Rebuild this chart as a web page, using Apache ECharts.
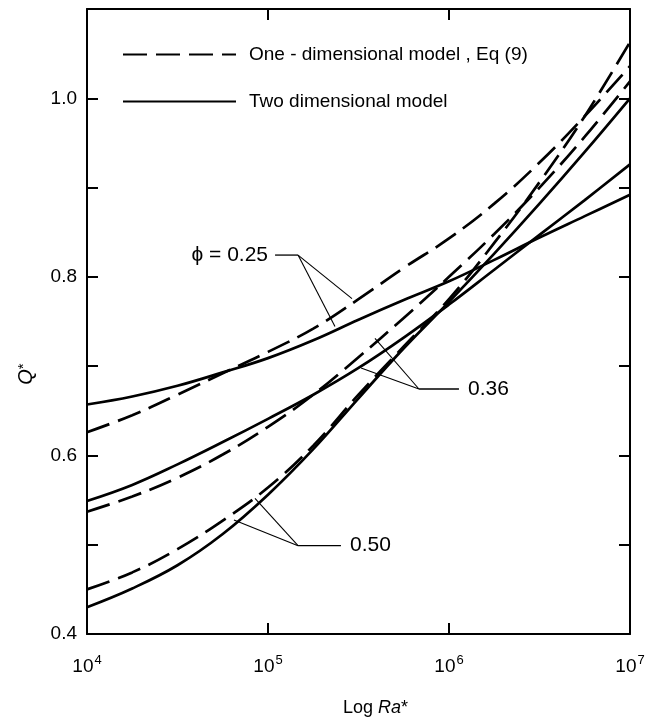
<!DOCTYPE html>
<html>
<head>
<meta charset="utf-8">
<script src="https://cdn.jsdelivr.net/npm/echarts@6/dist/echarts.min.js"></script>
<style>
  html, body { margin: 0; padding: 0; background: #fff; }
  #chart { width: 652px; height: 722px; }
</style>
</head>
<body>
<div id="chart"></div>
<script>
// x = log10(Ra*)
var logRa = [4, 4.25, 4.5, 4.75, 5, 5.25, 5.5, 5.75, 6, 6.25, 6.5, 6.75, 7];

// two dimensional model (solid)
var twoD_025 = [0.657, 0.666, 0.678, 0.693, 0.709, 0.729, 0.752, 0.774, 0.795, 0.819, 0.844, 0.868, 0.892];
var twoD_036 = [0.549, 0.567, 0.590, 0.615, 0.641, 0.668, 0.698, 0.732, 0.769, 0.808, 0.847, 0.886, 0.926];
var twoD_050 = [0.430, 0.451, 0.477, 0.512, 0.556, 0.607, 0.664, 0.720, 0.772, 0.826, 0.882, 0.940, 1.000];

// one-dimensional model, Eq (9) (dashed)
var oneD_025 = [0.626, 0.645, 0.668, 0.692, 0.716, 0.742, 0.775, 0.810, 0.843, 0.882, 0.928, 0.980, 1.036];
var oneD_036 = [0.537, 0.554, 0.575, 0.601, 0.632, 0.668, 0.710, 0.754, 0.800, 0.848, 0.900, 0.957, 1.019];
var oneD_050 = [0.450, 0.469, 0.495, 0.527, 0.564, 0.611, 0.668, 0.722, 0.775, 0.838, 0.906, 0.980, 1.063];

var xTickExp = [4, 5, 6, 7];
var yTickLabels = [0.4, 0.6, 0.8, 1.0];

var NAME_1D = 'One - dimensional model , Eq (9)';
var NAME_2D = 'Two dimensional model';

// leader lines for the phi labels, in data coordinates
var leaders = [
  { text: 'ϕ = 0.25', align: 'right', textAt: [5.00, 0.8244], joint: [5.166, 0.8244], end: [5.039, 0.8244],
    targets: [[5.464, 0.7756], [5.370, 0.7444]] },
  { text: '0.36', align: 'left', textAt: [6.105, 0.6744], joint: [5.834, 0.6744], end: [6.055, 0.6744],
    targets: [[5.514, 0.698], [5.591, 0.731]] },
  { text: '0.50', align: 'left', textAt: [5.453, 0.4989], joint: [5.166, 0.4989], end: [5.403, 0.4989],
    targets: [[4.812, 0.5278], [4.928, 0.552]] }
];

function pairs(ys) {
  return logRa.map(function (x, i) { return [x, ys[i]]; });
}

var FONT = 'Liberation Sans';
var dash = [24, 9];

function curve(name, ys, dashed) {
  return {
    name: name,
    type: 'line',
    data: pairs(ys),
    smooth: 0.4,
    symbol: 'none',
    silent: true,
    itemStyle: { color: '#000' },
    lineStyle: { color: '#000', width: 2.7, type: dashed ? dash : 'solid' }
  };
}

var chart = echarts.init(document.getElementById('chart'));

var axisLine = { show: true, lineStyle: { color: '#000', width: 2 } };
var tick = { show: true, inside: true, length: 11, lineStyle: { color: '#000', width: 2 } };

var option = {
  animation: false,
  backgroundColor: '#fff',
  grid: { left: 87, right: 22, top: 9, bottom: 82, containLabel: false },
  legend: {
    orient: 'vertical',
    left: 117,
    top: 40,
    itemWidth: 113,
    itemHeight: 20,
    itemGap: 28,
    data: [NAME_1D, NAME_2D],
    itemStyle: { opacity: 0 },
    textStyle: { fontFamily: FONT, fontSize: 19, color: '#000', padding: [0, 0, 0, 8] },
    selectedMode: false
  },
  xAxis: [
    {
      type: 'value', position: 'bottom', min: 4, max: 7, interval: 1,
      axisLine: axisLine, axisTick: tick, splitLine: { show: false },
      name: '{n|Log }{i|Ra}{n|*}',
      nameLocation: 'middle', nameGap: 65,
      nameTextStyle: {
        padding: [0, 0, 0, 34],
        rich: {
          n: { fontFamily: FONT, fontSize: 18, color: '#000' },
          i: { fontFamily: FONT, fontSize: 18, fontStyle: 'italic', color: '#000' }
        }
      },
      axisLabel: {
        margin: 20,
        formatter: function (v) {
          return xTickExp.indexOf(v) >= 0 ? '{b|10}{s|' + v + '}' : '';
        },
        rich: {
          b: { fontFamily: FONT, fontSize: 19, color: '#000' },
          s: { fontFamily: FONT, fontSize: 13, color: '#000', verticalAlign: 'bottom', padding: [0, 0, 12, 1] }
        }
      }
    },
    {
      type: 'value', position: 'top', min: 4, max: 7, interval: 1,
      axisLine: axisLine, axisTick: tick, axisLabel: { show: false }, splitLine: { show: false }
    }
  ],
  yAxis: [
    {
      type: 'value', position: 'left', min: 0.4, max: 1.1, interval: 0.1,
      axisLine: axisLine, axisTick: tick, splitLine: { show: false },
      axisLabel: {
        margin: 10, fontFamily: FONT, fontSize: 19, color: '#000',
        formatter: function (v) {
          var r = Math.round(v * 10) / 10;
          for (var i = 0; i < yTickLabels.length; i++) {
            if (Math.abs(yTickLabels[i] - r) < 1e-6) return r.toFixed(1);
          }
          return '';
        }
      }
    },
    {
      type: 'value', position: 'right', min: 0.4, max: 1.1, interval: 0.1,
      axisLine: axisLine, axisTick: tick, axisLabel: { show: false }, splitLine: { show: false }
    }
  ],
  series: [
    curve(NAME_1D, oneD_025, true),
    curve(NAME_1D, oneD_036, true),
    curve(NAME_1D, oneD_050, true),
    curve(NAME_2D, twoD_025, false),
    curve(NAME_2D, twoD_036, false),
    curve(NAME_2D, twoD_050, false)
  ]
};

chart.setOption(option);

// annotations: leader lines + phi labels, placed from data coords
var px = function (p) { return chart.convertToPixel({ gridIndex: 0 }, p); };
var graphics = [];
leaders.forEach(function (l) {
  var j = px(l.joint), e = px(l.end), t = px(l.textAt);
  graphics.push({ type: 'line', shape: { x1: j[0], y1: j[1], x2: e[0], y2: e[1] },
    style: { stroke: '#000', lineWidth: 1.3 }, silent: true });
  l.targets.forEach(function (tg) {
    var p = px(tg);
    graphics.push({ type: 'line', shape: { x1: j[0], y1: j[1], x2: p[0], y2: p[1] },
      style: { stroke: '#000', lineWidth: 1.1 }, silent: true });
  });
  graphics.push({ type: 'text', x: t[0], y: t[1], silent: true,
    style: { text: l.text, fontFamily: FONT, fontSize: 21, fill: '#000',
      align: l.align, verticalAlign: 'middle' } });
});

// y axis title, rotated
graphics.push({
  type: 'text', x: 26, y: 374, rotation: Math.PI / 2, silent: true,
  style: {
    text: '{i|Q}{s|*}', align: 'center', verticalAlign: 'middle',
    rich: {
      i: { fontFamily: FONT, fontSize: 20, fontStyle: 'italic', fill: '#000' },
      s: { fontFamily: FONT, fontSize: 15, fill: '#000', verticalAlign: 'top' }
    }
  }
});

chart.setOption({ graphic: graphics });
window.onresize = chart.resize;
</script>
</body>
</html>
